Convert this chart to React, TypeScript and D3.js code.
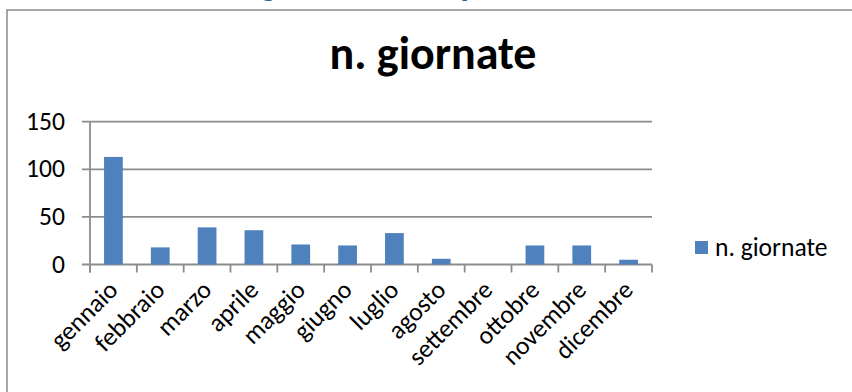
import React from "react";
import * as d3 from "d3";

// Monthly count of days
const months = [
  "gennaio", "febbraio", "marzo", "aprile", "maggio", "giugno",
  "luglio", "agosto", "settembre", "ottobre", "novembre", "dicembre",
];
const giornate = [113, 18, 39, 36, 21, 20, 33, 6, 0, 20, 20, 5];
const yTicks = [0, 50, 100, 150];
const seriesName = "n. giornate";
const chartTitle = "n. giornate";
const headingText = "giornate di superamento";

const W = 852;
const H = 392;
const FONT = "Carlito, Calibri, Lato, sans-serif";
const GRID = "#8c8c8c";
const BAR = "#4f81bd";
const LABEL_SIZE = 25.6;

const plot = { left: 90, right: 652, top: 121.7, bottom: 264.5 };

export default function App() {
  const x = d3
    .scaleBand<string>()
    .domain(months)
    .range([plot.left, plot.right])
    .paddingInner(0)
    .paddingOuter(0);
  const y = d3.scaleLinear().domain([0, 150]).range([plot.bottom, plot.top]);
  const bw = x.bandwidth() / 2.5;

  const bounds = [...months.map((m) => x(m)!), plot.right];

  return (
    <svg
      width={W}
      height={H}
      viewBox={`0 0 ${W} ${H}`}
      style={{ position: "absolute", left: 0, top: 0, background: "#fff" }}
    >
      {/* page heading above the chart, mostly out of view */}
      <text
        x={260}
        y={-5}
        fontFamily={FONT}
        fontWeight="bold"
        fontSize={35.5}
        fill="#365f91"
      >
        {headingText}
      </text>

      {/* chart area frame */}
      <rect
        x={7}
        y={10}
        width={W + 20}
        height={H + 20}
        fill="#fff"
        stroke={GRID}
        strokeWidth={1.5}
      />

      <text
        x={433}
        y={69}
        textAnchor="middle"
        fontFamily={FONT}
        fontWeight="bold"
        fontSize={46}
        fill="#000"
      >
        {chartTitle}
      </text>

      {/* horizontal gridlines with y tick marks */}
      {yTicks.map((t) => (
        <g key={t}>
          <line
            x1={plot.left - 8}
            x2={plot.right}
            y1={y(t)}
            y2={y(t)}
            stroke={GRID}
            strokeWidth={1.8}
          />
          <text
            x={65}
            y={y(t) + 8}
            textAnchor="end"
            fontFamily={FONT}
            fontSize={LABEL_SIZE}
            fill="#000"
          >
            {t}
          </text>
        </g>
      ))}

      {/* value axis line */}
      <line
        x1={plot.left}
        x2={plot.left}
        y1={plot.top}
        y2={plot.bottom + 8}
        stroke={GRID}
        strokeWidth={1.8}
      />

      {/* category tick marks */}
      {bounds.map((b, i) => (
        <line
          key={i}
          x1={b}
          x2={b}
          y1={plot.bottom}
          y2={plot.bottom + 8}
          stroke={GRID}
          strokeWidth={1.8}
        />
      ))}

      {/* bars */}
      {months.map((m, i) => (
        <rect
          key={m}
          x={x(m)! + (x.bandwidth() - bw) / 2}
          y={y(giornate[i])}
          width={bw}
          height={plot.bottom - y(giornate[i])}
          fill={BAR}
        />
      ))}

      {/* rotated category labels */}
      {months.map((m) => {
        const cx = x(m)! + x.bandwidth() / 2 + 6;
        const cy = plot.bottom + 27;
        return (
          <text
            key={m}
            x={cx}
            y={cy}
            transform={`rotate(-45 ${cx} ${cy})`}
            textAnchor="end"
            fontFamily={FONT}
            fontSize={LABEL_SIZE}
            fill="#000"
          >
            {m}
          </text>
        );
      })}

      {/* legend */}
      <rect x={695} y={241} width={13} height={13} fill={BAR} />
      <text x={715} y={256} fontFamily={FONT} fontSize={LABEL_SIZE} fill="#000">
        {seriesName}
      </text>
    </svg>
  );
}
